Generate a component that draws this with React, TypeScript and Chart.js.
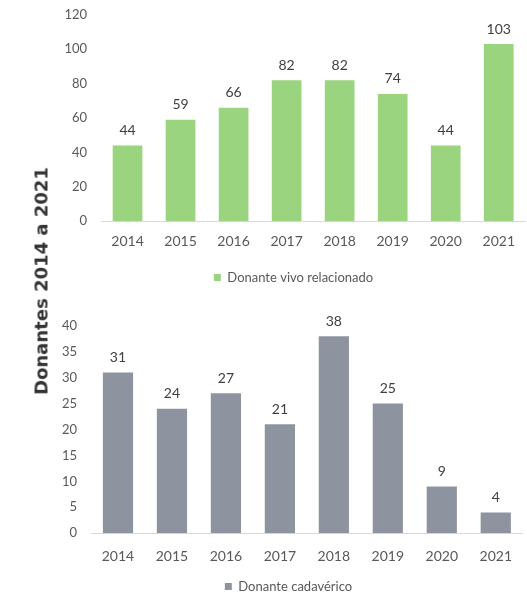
import React, { useEffect, useRef } from "react";
import { Chart, registerables } from "chart.js";

Chart.register(...registerables);

const years = ["2014", "2015", "2016", "2017", "2018", "2019", "2020", "2021"];
const vivoValues = [44, 59, 66, 82, 82, 74, 44, 103];
const cadavericoValues = [31, 24, 27, 21, 38, 25, 9, 4];
const vivoLabel = "Donante vivo relacionado";
const cadavericoLabel = "Donante cadavérico";
const title = "Donantes 2014 a 2021";

const FONT = "Lato, 'Open Sans', sans-serif";

const dataLabelPlugin = {
  id: "dataLabels",
  afterDatasetsDraw(chart: any) {
    const ctx = chart.ctx;
    ctx.save();
    ctx.font = `14px ${FONT}`;
    ctx.fillStyle = "#404040";
    ctx.textAlign = "center";
    ctx.textBaseline = "bottom";
    chart.data.datasets.forEach((ds: any, i: number) => {
      const meta = chart.getDatasetMeta(i);
      meta.data.forEach((bar: any, j: number) => {
        ctx.fillText(String(ds.data[j]), bar.x, bar.y - 8);
      });
    });
    ctx.restore();
  },
};

function makeConfig(
  values: number[],
  label: string,
  color: string,
  max: number,
  step: number,
  yWidth: number,
  xPad: number,
  legendPad: number
) {
  return {
    type: "bar" as const,
    data: {
      labels: years,
      datasets: [
        {
          label,
          data: values,
          backgroundColor: color,
          borderWidth: 0,
          barPercentage: 0.56,
          categoryPercentage: 1,
        },
      ],
    },
    options: {
      responsive: false,
      animation: false as const,
      layout: { padding: 0 },
      plugins: {
        tooltip: { enabled: false },
        legend: {
          position: "bottom" as const,
          labels: {
            boxWidth: 7,
            boxHeight: 7,
            color: "#595959",
            font: { family: FONT, size: 13 },
            padding: legendPad,
          },
        },
      },
      scales: {
        x: {
          grid: { display: false, drawTicks: false },
          border: { display: true, color: "#d9d9d9", width: 1 },
          ticks: { color: "#595959", font: { family: FONT, size: 14 }, padding: xPad },
        },
        y: {
          min: 0,
          max,
          grid: { display: false, drawTicks: false },
          border: { display: false },
          ticks: {
            stepSize: step,
            color: "#595959",
            font: { family: FONT, size: 13 },
            padding: 14,
          },
          afterFit: (s: any) => {
            s.width = yWidth;
          },
        },
      },
    },
    plugins: [dataLabelPlugin],
  };
}

function BarChart({ values, label, color, max, step, width, height, yWidth, xPad, legendPad }: any) {
  const ref = useRef<HTMLCanvasElement>(null);
  useEffect(() => {
    if (!ref.current) return;
    const chart = new Chart(
      ref.current,
      makeConfig(values, label, color, max, step, yWidth, xPad, legendPad) as any
    );
    return () => chart.destroy();
  }, []);
  return <canvas ref={ref} width={width} height={height} style={{ width, height, display: "block" }} />;
}

export default function App() {
  return (
    <div style={{ position: "fixed", left: 0, top: 0, width: 527, height: 597, background: "#fff", overflow: "hidden" }}>
      <div style={{ position: "absolute", left: 60, top: -7 }}>
        <BarChart
          values={vivoValues}
          label={vivoLabel}
          color="#9bd47f"
          max={120}
          step={20}
          width={467}
          height={301}
          yWidth={41}
          xPad={12}
          legendPad={9}
        />
      </div>
      <div style={{ position: "absolute", left: 50, top: 304 }}>
        <BarChart
          values={cadavericoValues}
          label={cadavericoLabel}
          color="#8e949f"
          max={40}
          step={5}
          width={477}
          height={299}
          yWidth={41}
          xPad={15}
          legendPad={0}
        />
      </div>
      <div
        style={{
          position: "absolute",
          left: 41,
          top: 281,
          transform: "translate(-50%, -50%) rotate(-90deg)",
          whiteSpace: "nowrap",
          fontFamily: "'DejaVu Sans', sans-serif",
          fontWeight: 700,
          fontSize: 18,
          color: "#333333",
        }}
      >
        {title}
      </div>
    </div>
  );
}
